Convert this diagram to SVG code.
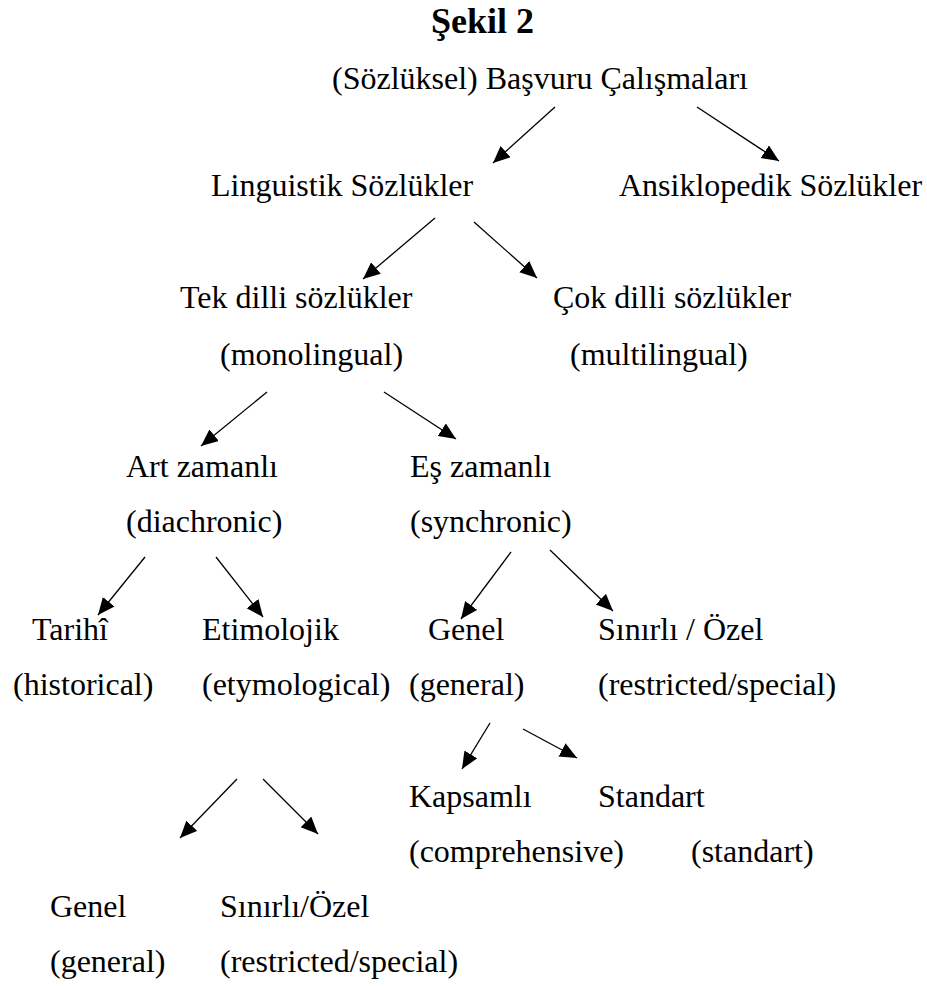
<svg xmlns="http://www.w3.org/2000/svg" width="927" height="986" viewBox="0 0 927 986" font-family="'Liberation Serif', 'Times New Roman', Times, serif">
<style>
text{font-family:"Liberation Serif","Times New Roman",Times,serif;font-size:32px;fill:#000}
.title{font-weight:bold;font-size:36px}
.c line{stroke:#000;stroke-width:1.3;marker-end:url(#ah)}
</style>
<defs>
<marker id="ah" markerUnits="userSpaceOnUse" markerWidth="18" markerHeight="16" refX="17" refY="7.5" orient="auto">
<path d="M0,0 L17,7.5 L0,15 z" fill="#000"/>
</marker>
</defs>
<rect width="927" height="986" fill="#fff"/>
<text class="title" x="431" y="33">Şekil 2</text>
<g id="root"><text x="332" y="89">(Sözlüksel) Başvuru Çalışmaları</text></g>
<g id="linguistik"><text x="211" y="196">Linguistik Sözlükler</text></g>
<g id="ansiklopedik"><text x="619" y="196">Ansiklopedik Sözlükler</text></g>
<g id="tekdilli"><text x="180" y="308">Tek dilli sözlükler</text><text x="220" y="365">(monolingual)</text></g>
<g id="cokdilli"><text x="553" y="308">Çok dilli sözlükler</text><text x="570" y="365">(multilingual)</text></g>
<g id="artzamanli"><text x="126" y="477">Art zamanlı</text><text x="126" y="532">(diachronic)</text></g>
<g id="eszamanli"><text x="410" y="477">Eş zamanlı</text><text x="410" y="532">(synchronic)</text></g>
<g id="tarihi"><text x="32" y="640">Tarihî</text><text x="13" y="695">(historical)</text></g>
<g id="etimolojik"><text x="202" y="640">Etimolojik</text><text x="202" y="695">(etymological)</text></g>
<g id="genel1"><text x="428" y="640">Genel</text><text x="409" y="695">(general)</text></g>
<g id="sinirli1"><text x="598" y="640">Sınırlı / Özel</text><text x="598" y="695">(restricted/special)</text></g>
<g id="kapsamli"><text x="409" y="807">Kapsamlı</text><text x="409" y="862">(comprehensive)</text></g>
<g id="standart"><text x="598" y="807">Standart</text><text x="691" y="862">(standart)</text></g>
<g id="genel2"><text x="50" y="917">Genel</text><text x="50" y="972">(general)</text></g>
<g id="sinirli2"><text x="220" y="917">Sınırlı/Özel</text><text x="220" y="972">(restricted/special)</text></g>
<g id="connectors" class="c">
<line x1="555" y1="107" x2="493" y2="163"/>
<line x1="697" y1="107" x2="779" y2="161"/>
<line x1="435" y1="218" x2="363" y2="279"/>
<line x1="474" y1="222" x2="537" y2="278"/>
<line x1="267" y1="392" x2="201" y2="446"/>
<line x1="384" y1="392" x2="456" y2="439"/>
<line x1="145" y1="557" x2="98" y2="615"/>
<line x1="216" y1="557" x2="263" y2="617"/>
<line x1="511" y1="552" x2="461" y2="619"/>
<line x1="550" y1="550" x2="613" y2="611"/>
<line x1="490" y1="723" x2="462" y2="769"/>
<line x1="523" y1="729" x2="577" y2="758"/>
<line x1="237" y1="779" x2="180" y2="838"/>
<line x1="263" y1="779" x2="318" y2="834"/>
</g>
</svg>
